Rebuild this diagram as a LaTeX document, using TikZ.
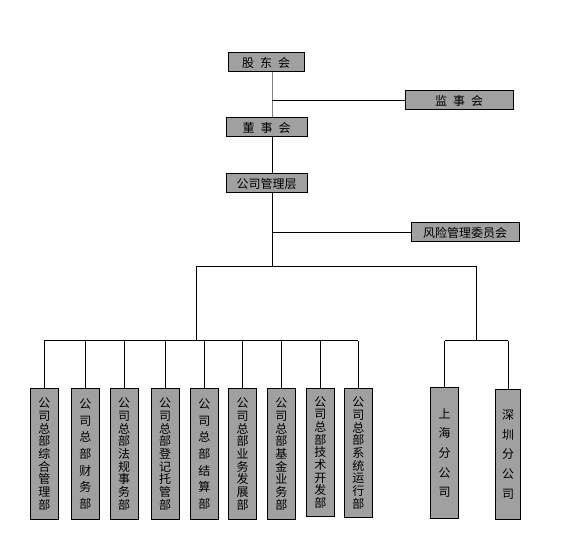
\documentclass[tikz,border=0pt]{standalone}
\usepackage{fontspec}
\newfontfamily\cjk{Noto Sans CJK SC}

\begin{document}
\begin{tikzpicture}[x=0.75pt,y=0.75pt,yscale=-1,xscale=1,
  orgbox/.style={draw,fill={rgb, 255:red, 160; green, 160; blue, 160},line width=0.75,inner sep=0pt,minimum height=14.25pt,font=\cjk\fontsize{9}{9}\selectfont},
  deptbox/.style={draw,fill={rgb, 255:red, 160; green, 160; blue, 160},line width=0.75,inner sep=0pt,minimum width=21pt,minimum height=97.5pt,align=center,font=\cjk\fontsize{9}{9.5}\selectfont},
  link/.style={line width=0.75}]
\useasboundingbox (0,0) rectangle (561,552);

%Shape: Rectangle
\node [orgbox,minimum width=57pt] (gdh) at (266,62.5) {股\enspace 东\enspace 会};
%Shape: Rectangle
\node [orgbox,minimum width=81pt] (jsh) at (459,100.5) {监\enspace 事\enspace 会};
%Shape: Rectangle
\node [orgbox,minimum width=60.75pt] (dsh) at (266.5,127.5) {董\enspace 事\enspace 会};
%Shape: Rectangle
\node [orgbox,minimum width=60.75pt] (glc) at (266.5,183.5) {公司管理层};
%Shape: Rectangle
\node [orgbox,minimum width=81pt] (fxh) at (465,232.5) {风险管理委员会};

%Straight Lines
\coordinate (tk) at (272,267);
\coordinate (lbus) at (196,341);
\coordinate (rbus) at (476,341);
\draw [link,color={rgb, 255:red, 128; green, 128; blue, 128}] (gdh.south -| tk) -- (dsh.north -| tk);
\draw [link] (tk |- jsh) -- (jsh.west);
\draw [link] (dsh.south -| tk) -- (glc.north -| tk);
\draw [link] (glc.south -| tk) -- (tk);
\draw [link] (tk |- fxh) -- (fxh.west);
\draw [link] (lbus) -- (lbus |- tk) -- (rbus |- tk) -- (rbus);

%Shape: Rectangle
\node [deptbox] (zh) at (44.3,454) {公\\司\\总\\部\\综\\合\\管\\理\\部};
\node [deptbox,font=\cjk\fontsize{9}{12.5}\selectfont] (cw) at (85.3,454) {公\\司\\总\\部\\财\\务\\部};
\node [deptbox] (fg) at (124.2,454) {公\\司\\总\\部\\法\\规\\事\\务\\部};
\node [deptbox] (dj) at (165.2,454) {公\\司\\总\\部\\登\\记\\托\\管\\部};
\node [deptbox,font=\cjk\fontsize{9}{12.5}\selectfont] (js) at (204.3,454) {公\\司\\总\\部\\结\\算\\部};
\node [deptbox] (yw) at (242.5,454) {公\\司\\总\\部\\业\\务\\发\\展\\部};
\node [deptbox] (jj) at (281.3,454) {公\\司\\总\\部\\基\\金\\业\\务\\部};
\node [deptbox,minimum height=96pt] (jk) at (320.3,452.5) {公\\司\\总\\部\\技\\术\\开\\发\\部};
\node [deptbox,minimum height=96.75pt] (xt) at (358.3,453) {公\\司\\总\\部\\系\\统\\运\\行\\部};
%Shape: Rectangle
\node [deptbox,font=\cjk\fontsize{9}{14.7}\selectfont] (sh) at (444.5,453) {上\\海\\分\\公\\司};
\node [deptbox,minimum width=19pt,font=\cjk\fontsize{9}{14.7}\selectfont] (sz) at (508,454.3) {深\\圳\\分\\公\\司};

%Straight Lines
\draw [link] (zh.north |- lbus) -- (xt.north |- lbus);
\draw [link] (zh.north) -- (zh.north |- lbus);
\draw [link] (cw.north) -- (cw.north |- lbus);
\draw [link] (fg.north) -- (fg.north |- lbus);
\draw [link] (dj.north) -- (dj.north |- lbus);
\draw [link] (js.north) -- (js.north |- lbus);
\draw [link] (yw.north) -- (yw.north |- lbus);
\draw [link] (jj.north) -- (jj.north |- lbus);
\draw [link] (jk.north) -- (jk.north |- lbus);
\draw [link] (xt.north) -- (xt.north |- lbus);
%Straight Lines
\draw [link] (sh.north |- rbus) -- (sz.north |- rbus);
\draw [link] (sh.north) -- (sh.north |- rbus);
\draw [link] (sz.north) -- (sz.north |- rbus);

\end{tikzpicture}
\end{document}
